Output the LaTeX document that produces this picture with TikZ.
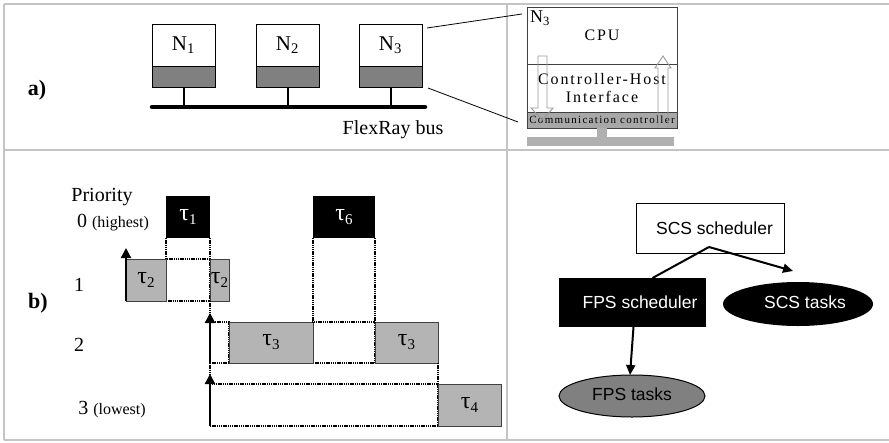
\documentclass[tikz,border=0pt]{standalone}
\usepackage{fontspec}
\setmainfont{Liberation Serif}
\newfontfamily\sansf{Liberation Sans}
\newfontfamily\spacedf[LetterSpace=12]{Liberation Serif}
\usetikzlibrary{arrows.meta,shapes.geometric}
\definecolor{panelgray}{HTML}{C4C4C4}
\definecolor{ccgray}{HTML}{808080}
\definecolor{taskgray}{HTML}{B4B4B4}
\definecolor{hollowgray}{HTML}{999999}
\definecolor{detailband}{HTML}{A8A8A8}
\definecolor{bargray}{HTML}{B0B0B0}
\definecolor{detailedge}{HTML}{404040}
\newcommand\fs[1]{\fontsize{#1}{#1}\selectfont}
\newcommand\tsub[1]{{\fs{24}τ}\raisebox{-4pt}{\fs{15}#1}}
\begin{document}
\begin{tikzpicture}[x=1pt,y=-1pt,
  every node/.style={inner sep=0pt, outer sep=0pt},
  panel/.style={draw=panelgray, line width=1.4pt},
  nodebox/.style={draw=black, line width=0.9pt, fill=white, minimum width=63pt, minimum height=42pt, font=\fs{21}},
  ccbox/.style={draw=black, line width=0.9pt, fill=ccgray, minimum width=63pt, minimum height=21pt},
  stem/.style={line width=2pt},
  detail/.style={draw=detailedge, line width=0.9pt, minimum width=150pt},
  hollow/.style={draw=hollowgray, line width=0.9pt},
  task/.style={draw=black!75, line width=0.8pt, fill=taskgray},
  hp/.style={fill=black, text=white},
  idle/.style={draw=black, line width=1.4pt, dash pattern=on 1.4pt off 0.8pt, fill=white},
  dotline/.style={draw=black, line width=1.4pt, dash pattern=on 1.4pt off 0.8pt},
  rise/.style={line width=2.2pt, -{Triangle[length=10pt,width=10pt]}},
  lbl/.style={font=\fs{20}},
  arr/.style={line width=2pt, -{Triangle[length=10pt,width=9pt]}},
  sched/.style={font=\sansf\fs{17.5}, minimum height=49pt, minimum width=147pt}
]
\useasboundingbox (0,0) rectangle (889,442);
% panel frame
\draw[panel] (4,4) -- (889,4);
\draw[panel] (4,150) -- (889,150);
\draw[panel] (4,440) -- (889,440);
\draw[panel] (4,4) -- (4,440);
\draw[panel] (507,4) -- (507,440);

% ---------- panel a ----------
\node[font=\bfseries\fs{22}] (la) at (37,90) {a)};
\node[nodebox] (n1) at (183.5,45) {N\textsubscript{1}};
\node[ccbox] (n1c) at (183.5,76.5) {};
\node[nodebox] (n2) at (287.5,45) {N\textsubscript{2}};
\node[ccbox] (n2c) at (287.5,76.5) {};
\node[nodebox] (n3) at (390.5,45) {N\textsubscript{3}};
\node[ccbox] (n3c) at (390.5,76.5) {};
\coordinate (busl) at (152,107);
\coordinate (busr) at (425,107);
\draw[stem] (n1c.south) -- (n1c.south |- busl);
\draw[stem] (n2c.south) -- (n2c.south |- busl);
\draw[stem] (n3c.south) -- (n3c.south |- busl);
\draw[line width=4.5pt, line cap=round] (busl) -- (busr);
\node[lbl] (bus) at (393,130) {FlexRay bus};

% N3 detail
\node[detail, minimum height=57pt, font=\spacedf\fs{16}] (cpu) at (602,35.5) {CPU};
\node[detail, minimum height=48pt, font=\spacedf\fs{16}, align=center] (chi) at (602,88) {Controller-Host\\[2pt]Interface};
\node[detail, minimum height=16pt, fill=detailband, font=\spacedf\fs{11}] (cc) at (602,120) {Communication controller};
\node[font=\fs{18}] (n3l) at (540,18) {N\textsubscript{3}};
\fill[bargray] (597,128) rectangle (607,137);
\fill[bargray] (527,137) rectangle (674,146);
\draw[hollow] (538,56) -- (547,56) -- (547,108) -- (553,108) -- (542.5,120) -- (531,108) -- (538,108) -- cycle;
\draw[hollow] (658,128) -- (658,68) -- (655,68) -- (663,56) -- (671,68) -- (668,68) -- (668,128);
\coordinate (z1) at (427,28);
\coordinate (z2) at (522,14);
\coordinate (z3) at (428,88);
\coordinate (z4) at (518,122);
\draw[line width=0.8pt] (z1) -- (z2);
\draw[line width=0.8pt] (z3) -- (z4);

% ---------- panel b ----------
\node[font=\bfseries\fs{22}] (lb) at (38,303) {b)};
\node[lbl] (prio) at (102,197) {Priority};
\node[lbl] (p0) at (113,223) {0 {\fs{16}(highest)}};
\node[lbl] (p1) at (79,285) {1};
\node[lbl] (p2) at (79,345) {2};
\node[lbl] (p3) at (112,410) {3 {\fs{16}(lowest)}};

% idle (dotted) boxes
\node[idle, minimum width=44pt, minimum height=42pt] (w1) at (188,280) {};
\node[idle, minimum width=19pt, minimum height=41pt] (w2) at (219.5,342.5) {};
\node[idle, minimum width=62pt, minimum height=41pt] (w3) at (344,342.5) {};
\node[idle, minimum width=228pt, minimum height=42pt] (w4) at (324,405) {};
% executing boxes
\node[hp, minimum width=44pt, minimum height=42pt] (t1) at (188,217) {\tsub{1}};
\node[hp, minimum width=62pt, minimum height=42pt] (t6) at (344,217) {\tsub{6}};
\node[task, minimum width=40pt, minimum height=42pt] (t2a) at (146,280) {\tsub{2}};
\node[task, minimum width=19pt, minimum height=42pt] (t2b) at (219.5,280) {\tsub{2}};
\node[task, minimum width=84pt, minimum height=41pt] (t3a) at (271,342.5) {\tsub{3}};
\node[task, minimum width=63pt, minimum height=41pt] (t3b) at (406.5,342.5) {\tsub{3}};
\node[task, minimum width=63pt, minimum height=42pt] (t4) at (469.5,405) {\tsub{4}};
% dotted links
\draw[dotline] (t1.south west) -- (w1.north west);
\draw[dotline] (t1.south east) -- (w1.north east);
\draw[dotline] (t2b.south west) -- (w2.north west);
\draw[dotline] (t6.south west) -- (w3.north west);
\draw[dotline] (t6.south east) -- (w3.north east);
\draw[dotline] (w2.south west) -- (w4.north west);
\draw[dotline] (t3b.south east) -- (w4.north east);
% release arrows
\coordinate (r1) at (126,248);
\coordinate (r2) at (210,313);
\coordinate (r3) at (210,374);
\draw[rise] (t2a.south west) -- (r1);
\draw[rise] (w2.south west) -- (r2);
\draw[rise] (w4.south west) -- (r3);

% ---------- panel right ----------
\node[sched, draw=black, line width=1pt, fill=white, minimum width=148pt, minimum height=50pt] (scs) at (710,228) {\hspace*{9pt}\raisebox{-4pt}{SCS scheduler}};
\node[sched, fill=black, text=white] (fps) at (632.5,302.5) {\hspace*{15pt}\raisebox{-4pt}{FPS scheduler}};
\node[ellipse, fill=black, text=white, font=\sansf\fs{17.5}, minimum width=150pt, minimum height=44pt] (scst) at (798,304) {\hspace*{14pt}\raisebox{3pt}{SCS tasks}};
\node[ellipse, draw=black, line width=1pt, fill=ccgray, font=\sansf\fs{17.5}, minimum width=146pt, minimum height=42pt] (fpst) at (632,396) {\raisebox{3pt}{FPS tasks}};
\coordinate (apex) at (709,247);
\coordinate (scsin) at (793,271);
\draw[line width=2pt] ([xshift=20pt]fps.north) -- (apex);
\draw[arr] (apex) -- (scsin);
\draw[arr] ([xshift=1pt]fps.south) -- ([xshift=-2pt]fpst.north);
\end{tikzpicture}
\end{document}
